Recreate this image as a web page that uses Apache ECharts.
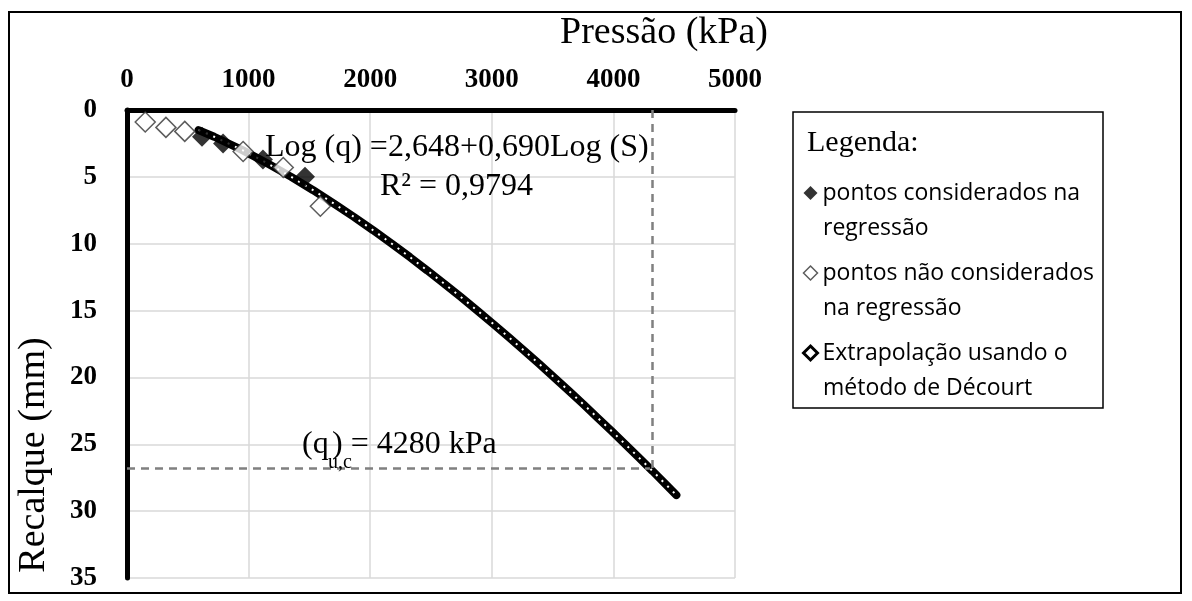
<!DOCTYPE html>
<html>
<head>
<meta charset="utf-8">
<script src="https://cdn.jsdelivr.net/npm/echarts@6/dist/echarts.min.js"></script>
<style>
	html, body { margin: 0; padding: 0; background: #fff; }
	#chart { width: 1192px; height: 601px; }
</style>
</head>
<body>
<div id="chart"></div>
<script>
	// pressão (kPa) / recalque (mm)
	var regPressao = [617, 790, 1118, 1464];
	var regRecalque = [2.0, 2.5, 3.7, 5.0];

	var naoRegPressao = [150, 320, 475, 955, 1285, 1590];
	var naoRegRecalque = [0.9, 1.3, 1.6, 3.1, 4.3, 7.2];

	var decourtRecalque = [1.5, 2, 3, 4, 5, 6, 7, 8, 9, 10, 11, 12, 13, 14, 15, 16, 17, 18, 19, 20, 21, 22, 23, 24, 25, 26, 27, 28, 28.8];
	var decourtPressao = [588, 717, 949, 1157, 1350, 1531, 1702, 1867, 2025, 2178, 2326, 2469, 2610, 2747, 2881, 3012, 3140, 3267, 3391, 3513, 3633, 3752, 3868, 3984, 4098, 4210, 4322, 4431, 4518];

	// linhas tracejadas da carga de ruptura
	var rupturaRecalque = 26.8;
	var rupturaPressaoV = 4320;
	var rupturaPressaoH = 4300;

	var nomes = ['pontos considerados na regressão', 'pontos não considerados na regressão', 'Extrapolação usando o método de Décourt'];
	var legendaLinha1 = ['pontos considerados na', 'pontos não considerados', 'Extrapolação usando o'];
	var legendaLinha2 = ['regressão', 'na regressão', 'método de Décourt'];

	function pares(xs, ys) {
		var out = [];
		for (var i = 0; i < xs.length; i++) out.push([xs[i], ys[i]]);
		return out;
	}

	var serif = '"Liberation Serif", "Times New Roman", serif';
	var sans = '"Open Sans", "Noto Sans", sans-serif';

	var graficos = [
		{ type: 'rect', shape: { x: 9, y: 12, width: 1172, height: 581 }, style: { fill: 'none', stroke: '#000', lineWidth: 2 } },
		{ type: 'text', x: 664, y: 33, style: { text: 'Pressão (kPa)', font: '38px ' + serif, fill: '#000', align: 'center', verticalAlign: 'middle' } },
		{ type: 'text', x: 34, y: 455, rotation: Math.PI / 2, style: { text: 'Recalque (mm)', font: '38px ' + serif, fill: '#000', align: 'center', verticalAlign: 'middle' } },
		{ type: 'text', x: 265, y: 148, z: 10, style: { text: 'Log (q) =2,648+0,690Log (S)', font: '32px ' + serif, fill: '#000', verticalAlign: 'middle' } },
		{ type: 'text', x: 380, y: 187, z: 10, style: { text: 'R² = 0,9794', font: '32px ' + serif, fill: '#000', verticalAlign: 'middle' } },
		{ type: 'text', x: 302, y: 445, z: 10, style: { text: '(q', font: '32px ' + serif, fill: '#000', verticalAlign: 'middle' } },
		{ type: 'text', x: 328, y: 463, z: 10, style: { text: 'u,c', font: '20px ' + serif, fill: '#000', verticalAlign: 'middle' } },
		{ type: 'text', x: 332, y: 445, z: 10, style: { text: ') = 4280 kPa', font: '32px ' + serif, fill: '#000', verticalAlign: 'middle' } },
		{ type: 'rect', shape: { x: 793, y: 112, width: 310, height: 296 }, style: { fill: 'none', stroke: '#000', lineWidth: 1.5 } },
		{ type: 'text', x: 807, y: 143, style: { text: 'Legenda:', font: '30px ' + serif, fill: '#000', verticalAlign: 'middle' } }
	];
	legendaLinha2.forEach(function(t, i) {
		graficos.push({ type: 'text', x: 823, y: 228 + i * 80, style: { text: t, font: '23px ' + sans, fill: '#000', verticalAlign: 'middle' } });
	});

	var myChart = echarts.init(document.getElementById('chart'));
	var option = {
		animation: false,
		grid: { left: 127, top: 110, width: 608, height: 468 },
		legend: {
			orient: 'vertical',
			left: 797,
			top: 168,
			itemWidth: 14,
			itemHeight: 14,
			itemGap: 40,
			selectedMode: false,
			formatter: function(name) {
				return legendaLinha1[nomes.indexOf(name)];
			},
			textStyle: { fontFamily: sans, fontSize: 23, color: '#000', lineHeight: 40 },
			data: [
				{ name: nomes[0], icon: 'diamond', itemStyle: { color: '#000', borderWidth: 0 } },
				{ name: nomes[1], icon: 'diamond', itemStyle: { color: '#fff', borderColor: '#333', borderWidth: 1.5 } },
				{ name: nomes[2], icon: 'diamond', itemStyle: { color: '#fff', borderColor: '#000', borderWidth: 3 } }
			]
		},
		xAxis: {
			type: 'value',
			position: 'top',
			min: 0,
			max: 5000,
			interval: 1000,
			axisLine: { show: true, onZero: false, lineStyle: { color: '#000', width: 5 } },
			axisTick: { show: false },
			axisLabel: {
				fontFamily: serif, fontWeight: 'bold', fontSize: 27, color: '#000', margin: 16,
				formatter: function(v) { return String(v); }
			},
			splitLine: { show: true, lineStyle: { color: '#d9d9d9', width: 1.5 } }
		},
		yAxis: {
			type: 'value',
			inverse: true,
			min: 0,
			max: 35,
			interval: 5,
			axisLine: { show: true, onZero: false, lineStyle: { color: '#000', width: 5 } },
			axisTick: { show: false },
			axisLabel: { fontFamily: serif, fontWeight: 'bold', fontSize: 27, color: '#000', margin: 30 },
			splitLine: { show: true, lineStyle: { color: '#d9d9d9', width: 1.5 } }
		},
		series: [
			{
				name: nomes[2],
				type: 'line',
				data: pares(decourtPressao, decourtRecalque),
				showSymbol: false,
				symbol: 'diamond',
				itemStyle: { color: '#fff', borderColor: '#000', borderWidth: 3 },
				lineStyle: { color: '#000', width: 8, cap: 'round' },
				z: 2,
				silent: true,
				markLine: {
					silent: true,
					symbol: 'none',
					label: { show: false },
					lineStyle: { color: '#808080', width: 2.5, type: [8, 6] },
					data: [
						[{ coord: [0, rupturaRecalque] }, { coord: [rupturaPressaoH, rupturaRecalque] }],
						[{ coord: [rupturaPressaoV, 0] }, { coord: [rupturaPressaoV, rupturaRecalque] }]
					]
				}
			},
			{
				name: 'pontos da curva',
				type: 'line',
				data: pares(decourtPressao, decourtRecalque),
				showSymbol: false,
				lineStyle: { color: '#fff', width: 2, type: [2, 6] },
				z: 3,
				silent: true
			},
			{
				name: nomes[1],
				type: 'scatter',
				data: pares(naoRegPressao, naoRegRecalque),
				symbol: 'diamond',
				symbolSize: 20,
				itemStyle: { color: '#fff', borderColor: '#333', borderWidth: 1.5 },
				z: 4
			},
			{
				name: nomes[0],
				type: 'scatter',
				data: pares(regPressao, regRecalque),
				symbol: 'diamond',
				symbolSize: 20,
				itemStyle: { color: '#000' },
				z: 5
			}
		],
		graphic: graficos
	};
	myChart.setOption(option);
</script>
</body>
</html>
